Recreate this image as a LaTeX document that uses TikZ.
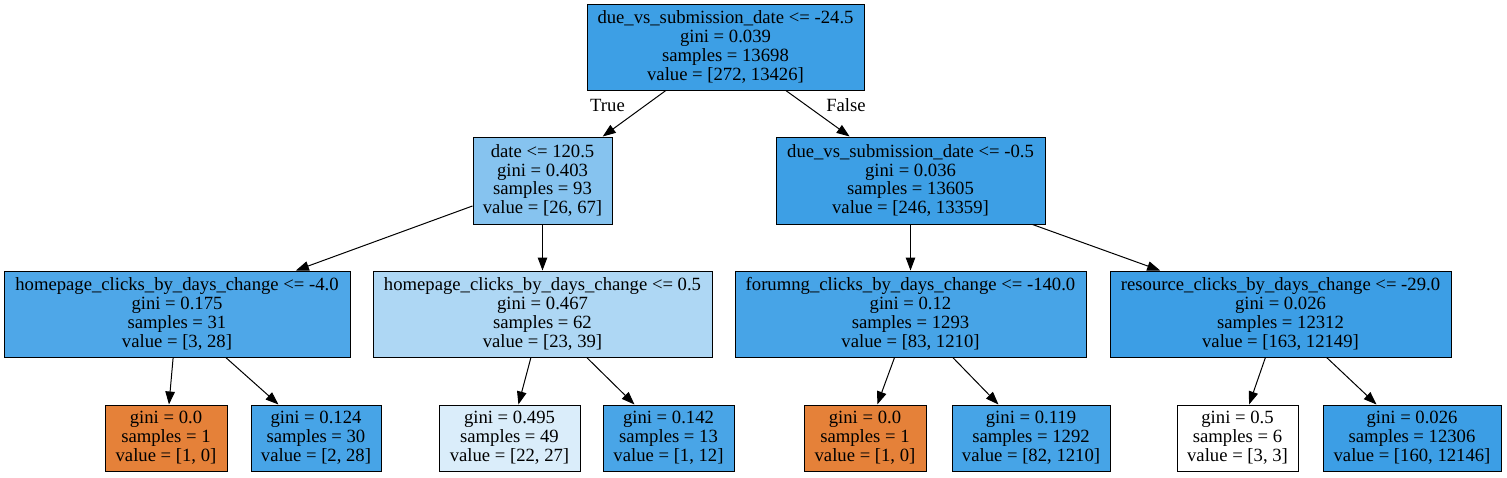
\documentclass[tikz,border=0pt]{standalone}
\usepackage{fontspec}
\setmainfont{Liberation Serif}
\usetikzlibrary{arrows.meta}
\definecolor{cRoot}{RGB}{61,159,229}
\definecolor{cDate}{RGB}{134,195,239}
\definecolor{cDueB}{RGB}{61,159,229}
\definecolor{cHpA}{RGB}{78,167,232}
\definecolor{cHpB}{RGB}{174,215,244}
\definecolor{cForum}{RGB}{71,164,231}
\definecolor{cRes}{RGB}{60,158,229}
\definecolor{cOrange}{RGB}{229,129,57}
\definecolor{cLeafB}{RGB}{71,164,231}
\definecolor{cLeafC}{RGB}{218,237,250}
\definecolor{cLeafD}{RGB}{73,165,231}
\definecolor{cLeafF}{RGB}{70,164,231}
\definecolor{cLeafH}{RGB}{60,158,229}
\begin{document}
\begin{tikzpicture}[x=1pt,y=-1pt,
  box/.style={draw=black, line width=1pt, align=center, inner sep=0pt,
    font=\fontsize{18.67}{18.8}\selectfont},
  inner/.style={box, minimum height=86pt},
  leaf/.style={box, minimum height=66pt},
  lbl/.style={inner sep=0pt, font=\fontsize{18.67}{18.8}\selectfont},
  edge/.style={-{Triangle[length=13pt,width=9.5pt]}, line width=1pt}]
\useasboundingbox (0,0) rectangle (1507,477);
\node[inner, fill=cRoot, minimum width=277pt] (root) at (725.5,47) {due\_vs\_submission\_date <= -24.5\\gini = 0.039\\samples = 13698\\value = [272, 13426]};
\node[inner, fill=cDate, minimum width=139pt, minimum height=87pt] (date) at (542.5,180.5) {date <= 120.5\\gini = 0.403\\samples = 93\\value = [26, 67]};
\node[inner, fill=cDueB, minimum width=269pt, minimum height=87pt] (due) at (910.5,180.5) {due\_vs\_submission\_date <= -0.5\\gini = 0.036\\samples = 13605\\value = [246, 13359]};
\node[inner, fill=cHpA, minimum width=346pt] (hpa) at (177,314) {homepage\_clicks\_by\_days\_change <= -4.0\\gini = 0.175\\samples = 31\\value = [3, 28]};
\node[inner, fill=cHpB, minimum width=339pt] (hpb) at (542.5,314) {homepage\_clicks\_by\_days\_change <= 0.5\\gini = 0.467\\samples = 62\\value = [23, 39]};
\node[inner, fill=cForum, minimum width=351pt] (forum) at (910.5,314) {forumng\_clicks\_by\_days\_change <= -140.0\\gini = 0.12\\samples = 1293\\value = [83, 1210]};
\node[inner, fill=cRes, minimum width=341pt] (res) at (1280.5,314) {resource\_clicks\_by\_days\_change <= -29.0\\gini = 0.026\\samples = 12312\\value = [163, 12149]};
\node[leaf, fill=cOrange, minimum width=122pt] (la) at (166,438) {gini = 0.0\\samples = 1\\value = [1, 0]};
\node[leaf, fill=cLeafB, minimum width=130pt] (lb) at (316,438) {gini = 0.124\\samples = 30\\value = [2, 28]};
\node[leaf, fill=cLeafC, minimum width=141pt] (lc) at (509.5,438) {gini = 0.495\\samples = 49\\value = [22, 27]};
\node[leaf, fill=cLeafD, minimum width=131pt] (ld) at (668.5,438) {gini = 0.142\\samples = 13\\value = [1, 12]};
\node[leaf, fill=cOrange, minimum width=122pt] (le) at (865,438) {gini = 0.0\\samples = 1\\value = [1, 0]};
\node[leaf, fill=cLeafF, minimum width=158pt] (lf) at (1031,438) {gini = 0.119\\samples = 1292\\value = [82, 1210]};
\node[leaf, fill=white, minimum width=121pt] (lg) at (1237.5,438) {gini = 0.5\\samples = 6\\value = [3, 3]};
\node[leaf, fill=cLeafH, minimum width=178pt] (lh) at (1412,438) {gini = 0.026\\samples = 12306\\value = [160, 12146]};
\draw[edge] (root) -- (date);
\draw[edge] (root) -- (due);
\draw[edge] (date) -- (hpa);
\draw[edge] (date) -- (hpb);
\draw[edge] (due) -- (forum);
\draw[edge] (due) -- (res);
\draw[edge] (hpa) -- (la);
\draw[edge] (hpa) -- (lb);
\draw[edge] (hpb) -- (lc);
\draw[edge] (hpb) -- (ld);
\draw[edge] (forum) -- (le);
\draw[edge] (forum) -- (lf);
\draw[edge] (res) -- (lg);
\draw[edge] (res) -- (lh);
\node[lbl] (truelbl) at (607.5,105) {True};
\node[lbl] (falselbl) at (846,105) {False};
\end{tikzpicture}
\end{document}
